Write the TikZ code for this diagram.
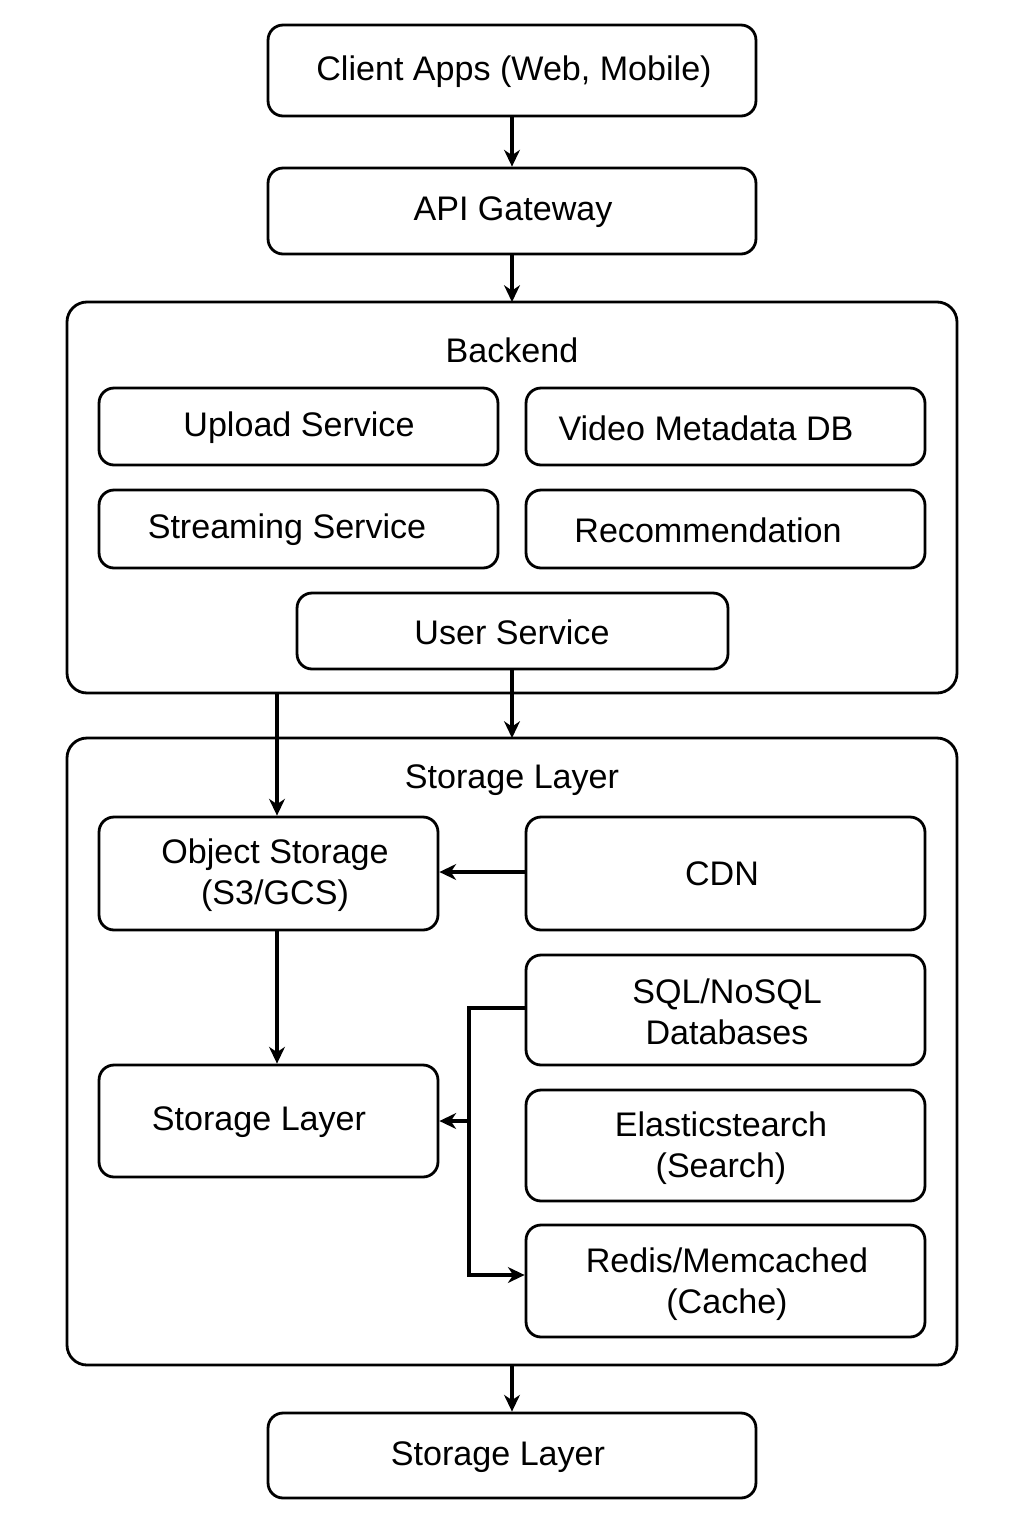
\documentclass[tikz,border=0pt]{standalone}
\usepackage{fontspec}
\setmainfont{Liberation Sans}
\usetikzlibrary{arrows.meta}
\begin{document}
\begin{tikzpicture}[x=0.02cm,y=-0.02cm,
  box/.style={draw, line width=1.6pt, rounded corners=0.3cm, inner sep=0pt},
  txt/.style={align=center, inner sep=0pt, font=\fontsize{19.4}{23.5}\selectfont},
  container/.style={draw, line width=1.6pt, rounded corners=0.4cm},
  arr/.style={draw, line width=2pt, -{Stealth[length=9.5pt,width=9pt,inset=3pt]}},
  ln/.style={draw, line width=2pt}]
\useasboundingbox (0,0) rectangle (1024,1536);
\fill[white] (0,0) rectangle (1024,1536);
% top boxes
\node[box, minimum width=9.76cm, minimum height=1.82cm] (client) at (512,70.5) {};
\node[txt] (clientt) at (514,72) {Client Apps (Web, Mobile)};
\node[box, minimum width=9.76cm, minimum height=1.72cm] (api) at (512,211) {};
\node[txt] (apit) at (513,212) {API Gateway};
% backend container
\draw[container] (67,302) rectangle (957,693);
\coordinate (backtop) at (512,302);
\coordinate (backbot) at (277,693);
\node[txt] (backend) at (512,350) {Backend};
\node[box, minimum width=7.98cm, minimum height=1.54cm] (upload) at (298.5,426.5) {};
\node[txt] (uploadt) at (299,428) {Upload Service};
\node[box, minimum width=7.98cm, minimum height=1.54cm] (meta) at (725.5,426.5) {};
\node[txt] (metat) at (706,428) {Video Metadata DB};
\node[box, minimum width=7.98cm, minimum height=1.56cm] (stream) at (298.5,529) {};
\node[txt] (streamt) at (287,530) {Streaming Service};
\node[box, minimum width=7.98cm, minimum height=1.56cm] (recom) at (725.5,529) {};
\node[txt] (recomt) at (708,530) {Recommendation};
\node[box, minimum width=8.62cm, minimum height=1.52cm] (user) at (512.5,631) {};
\node[txt] (usert) at (512,632) {User Service};
% storage container
\draw[container] (67,738) rectangle (957,1365);
\coordinate (stortop) at (512,738);
\coordinate (storbot) at (512,1365);
\node[txt] (stortitle) at (512,780) {Storage Layer};
\node[box, minimum width=6.78cm, minimum height=2.26cm] (obj) at (268.5,873.5) {};
\node[txt] (objt) at (275,875) {Object Storage\\(S3/GCS)};
\node[box, minimum width=7.98cm, minimum height=2.26cm] (cdn) at (725.5,873.5) {};
\node[txt] (cdnt) at (722,874) {CDN};
\node[box, minimum width=6.78cm, minimum height=2.24cm] (inner) at (268.5,1121) {};
\node[txt] (innert) at (259,1122) {Storage Layer};
\node[box, minimum width=7.98cm, minimum height=2.2cm] (sql) at (725.5,1010) {};
\node[txt] (sqlt) at (727,1012) {SQL/NoSQL\\Databases};
\node[box, minimum width=7.98cm, minimum height=2.22cm] (elastic) at (725.5,1145.5) {};
\node[txt] (elastict) at (721,1148) {Elasticstearch\\(Search)};
\node[box, minimum width=7.98cm, minimum height=2.24cm] (redis) at (725.5,1281) {};
\node[txt] (redist) at (727,1284) {Redis/Memcached\\(Cache)};
% bottom
\node[box, minimum width=9.76cm, minimum height=1.7cm] (bottom) at (512,1455.5) {};
\node[txt] (bottomt) at (498,1457) {Storage Layer};
% connectors
\draw[arr] (client) -- (api);
\draw[arr] (api) -- (backtop);
\draw[arr] (user.south -| stortop) -- (stortop);
\draw[arr] (backbot) -- (obj.north -| backbot);
\draw[arr] (cdn.west |- 0,872) -- (obj.east |- 0,872);
\draw[arr] (obj.south -| backbot) -- (inner.north -| backbot);
\coordinate (j1) at (469,1008);
\coordinate (j2) at (469,1121);
\coordinate (j3) at (469,1275);
\draw[ln] (sql.west |- j1) -- (j1) -- (j2);
\draw[arr] (j2) -- (inner.east |- j2);
\draw[arr] (j2) -- (j3) -- (redis.west |- j3);
\draw[arr] (storbot) -- (bottom);
\end{tikzpicture}
\end{document}
